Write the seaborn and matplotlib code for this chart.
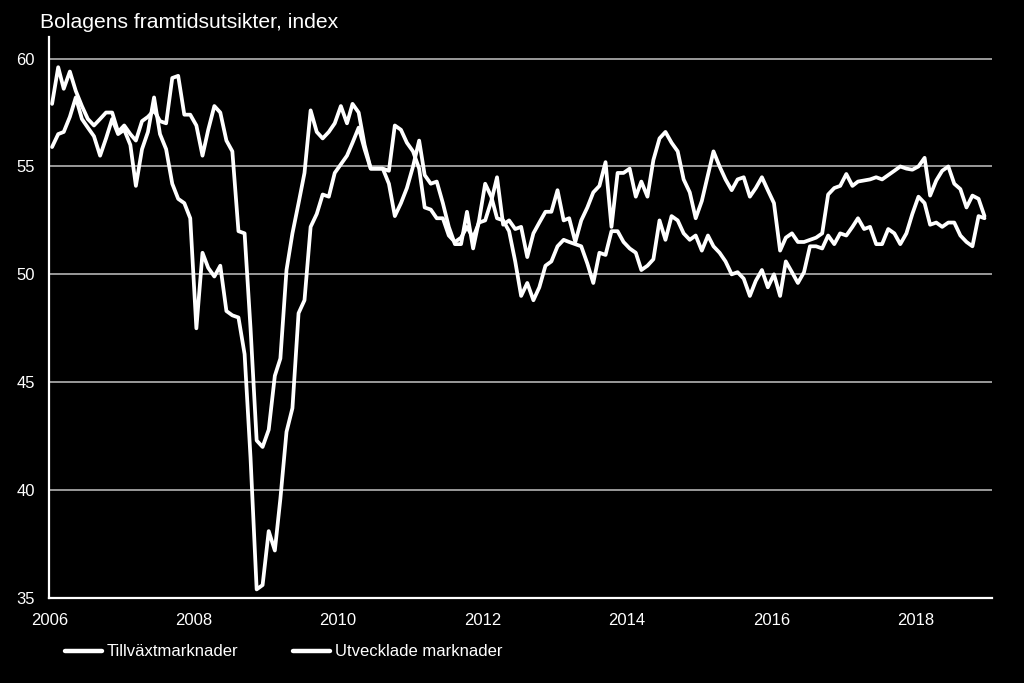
import numpy as np
import pandas as pd
import matplotlib
matplotlib.use("Agg")
import matplotlib.pyplot as plt
import matplotlib.dates as mdates
import seaborn as sns

# ---------------- data ----------------
title = "Bolagens framtidsutsikter, index"
series_names = ["Tillväxtmarknader", "Utvecklade marknader"]
start_month = "2006-01-01"
n_months = 156

tillvaxt = [
    55.9, 56.5, 56.6, 57.3, 58.2, 57.2, 56.8, 56.4, 55.5, 56.3, 57.2, 56.5,
    56.7, 56.0, 54.1, 55.8, 56.6, 58.2, 56.5, 55.8, 54.2, 53.5, 53.3, 52.6,
    47.5, 51.0, 50.3, 49.9, 50.4, 48.3, 48.1, 48.0, 46.3, 41.5, 35.4, 35.6,
    38.1, 37.2, 39.6, 42.7, 43.8, 48.2, 48.8, 52.2, 52.8, 53.7, 53.6, 54.7,
    55.1, 55.5, 56.1, 56.8, 55.8, 54.9, 54.9, 54.9, 54.2, 52.7, 53.3, 54.0,
    55.0, 56.2, 54.6, 54.2, 54.3, 53.3, 52.2, 51.4, 51.4, 52.9, 51.2, 52.5,
    54.2, 53.6, 52.6, 52.5, 52.0, 50.6, 49.0, 49.6, 48.8, 49.4, 50.4, 50.6,
    51.3, 51.6, 51.5, 51.4, 51.3, 50.5, 49.6, 51.0, 50.9, 52.0, 52.0, 51.5,
    51.2, 51.0, 50.2, 50.4, 50.7, 52.5, 51.6, 52.7, 52.5, 51.9, 51.6, 51.8,
    51.1, 51.8, 51.3, 51.0, 50.6, 50.0, 50.1, 49.8, 49.0, 49.7, 50.2, 49.4,
    50.0, 49.0, 50.6, 50.1, 49.6, 50.1, 51.3, 51.3, 51.2, 51.8, 51.4, 51.9,
    51.8, 52.2, 52.6, 52.1, 52.2, 51.4, 51.4, 52.1, 51.9, 51.4, 51.9, 52.8,
    53.6, 53.3, 52.3, 52.4, 52.2, 52.4, 52.4, 51.8, 51.5, 51.3, 52.7, 52.6,
]

utvecklade = [
    57.9, 59.6, 58.6, 59.4, 58.5, 57.8, 57.2, 56.9, 57.2, 57.5, 57.5, 56.6,
    56.9, 56.5, 56.2, 57.1, 57.3, 57.6, 57.1, 57.0, 59.1, 59.2, 57.4, 57.4,
    56.9, 55.5, 56.7, 57.8, 57.5, 56.2, 55.7, 52.0, 51.9, 47.5, 42.3, 42.0,
    42.8, 45.3, 46.1, 50.2, 51.9, 53.3, 54.7, 57.6, 56.6, 56.3, 56.6, 57.0,
    57.8, 57.0, 57.9, 57.5, 56.0, 54.9, 54.9, 54.9, 54.8, 56.9, 56.7, 56.1,
    55.7, 54.9, 53.1, 53.0, 52.6, 52.6, 51.8, 51.5, 51.7, 52.2, 51.7, 52.4,
    52.5, 53.4, 54.5, 52.3, 52.5, 52.1, 52.2, 50.8, 51.9, 52.4, 52.9, 52.9,
    53.9, 52.5, 52.6, 51.5, 52.5, 53.1, 53.8, 54.1, 55.2, 52.2, 54.7, 54.7,
    54.9, 53.6, 54.3, 53.6, 55.3, 56.3, 56.6, 56.1, 55.7, 54.4, 53.8, 52.6,
    53.4, 54.6, 55.7, 55.0, 54.4, 53.9, 54.4, 54.5, 53.6, 54.0, 54.5, 53.9,
    53.3, 51.1, 51.7, 51.9, 51.5, 51.5, 51.6, 51.7, 51.9, 53.7, 54.0, 54.1,
    54.65, 54.1, 54.3, 54.35, 54.4, 54.5, 54.4, 54.6, 54.8, 55.0, 54.9, 54.85,
    55.0, 55.4, 53.65, 54.35, 54.8, 55.0, 54.2, 53.95, 53.1, 53.65, 53.5, 52.7,
]

y_ticks = [35, 40, 45, 50, 55, 60]
grid_levels = [40, 45, 50, 55, 60]

# ---------------- frame ----------------
dates = pd.date_range(start_month, periods=n_months, freq="MS") + pd.Timedelta(days=14)
df = pd.DataFrame({
    "date": np.concatenate([dates, dates]),
    "value": tillvaxt + utvecklade,
    "serie": [series_names[0]] * n_months + [series_names[1]] * n_months,
})

sns.set_style("dark", {"axes.facecolor": "black", "figure.facecolor": "black"})
plt.rcParams["font.family"] = ["Liberation Sans", "DejaVu Sans"]

fig = plt.figure(figsize=(10.24, 6.83), dpi=100, facecolor="black")
ax = fig.add_axes([49.3 / 1024, 1 - 598 / 683, (992 - 49.3) / 1024, (598 - 37) / 683])
ax.set_facecolor("black")

sns.lineplot(data=df, x="date", y="value", hue="serie",
             palette=["white", "white"], linewidth=2.7, ax=ax, legend=False)

for g in grid_levels:
    ax.axhline(g, color="#9a9a9a", linewidth=1.4, zorder=0)

ax.set_ylim(35, 61)
ax.set_xlim(pd.Timestamp("2006-01-01"), pd.Timestamp("2019-01-22"))
ax.set_yticks(y_ticks)
ax.xaxis.set_major_locator(mdates.YearLocator(2))
ax.xaxis.set_major_formatter(mdates.DateFormatter("%Y"))
ax.set_xlabel("")
ax.set_ylabel("")
ax.grid(False)

for side in ["top", "right"]:
    ax.spines[side].set_visible(False)
for side in ["left", "bottom"]:
    ax.spines[side].set_visible(True)
    ax.spines[side].set_color("white")
    ax.spines[side].set_linewidth(1.6)

ax.tick_params(axis="both", colors="white", labelcolor="white", labelsize=12,
               length=6.5, width=1.4, direction="out", pad=4)
ax.tick_params(axis="y", pad=4)

fig.text(40 / 1024, 1 - 27.5 / 683, title, color="white", fontsize=15.2,
         ha="left", va="baseline")

handles = [plt.Line2D([], [], color="white", linewidth=3.2) for _ in series_names]
fig.legend(handles, series_names, loc="center left",
           bbox_to_anchor=(65 / 1024, 1 - 652 / 683), ncol=2, frameon=False,
           fontsize=12, labelcolor="white", handlelength=2.2, handletextpad=0.3,
           columnspacing=3.3, borderpad=0, borderaxespad=0)

fig.savefig("out.png", dpi=100, facecolor="black")
